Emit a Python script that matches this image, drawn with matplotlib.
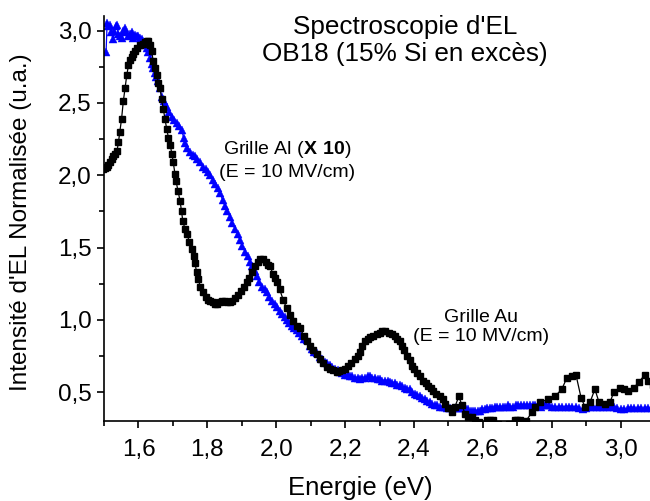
import matplotlib
matplotlib.use("Agg")
import matplotlib.pyplot as plt
from matplotlib.ticker import FixedLocator, FuncFormatter

plt.rcParams['font.family'] = ['Liberation Sans', 'DejaVu Sans']
plt.rcParams['mathtext.fontset'] = 'custom'
plt.rcParams['mathtext.rm'] = 'Liberation Sans'
plt.rcParams['mathtext.bf'] = 'Liberation Sans:bold'

# Grille Au (black squares)
au_x = [1.497, 1.503, 1.508, 1.513, 1.517, 1.522, 1.526, 1.532, 1.538, 1.542,
        1.546, 1.551, 1.556, 1.561, 1.566, 1.571, 1.576, 1.580, 1.585, 1.590,
        1.597, 1.605, 1.612, 1.619, 1.625, 1.629, 1.634, 1.638, 1.643, 1.648,
        1.653, 1.658, 1.663, 1.667, 1.672, 1.677, 1.682, 1.687, 1.692, 1.697,
        1.701, 1.706, 1.709, 1.715, 1.721, 1.725, 1.729, 1.735, 1.741, 1.748,
        1.755, 1.760, 1.764, 1.769, 1.773, 1.780, 1.787, 1.795, 1.801, 1.808,
        1.815, 1.822, 1.829, 1.836, 1.843, 1.850, 1.858, 1.866, 1.873, 1.881,
        1.889, 1.897, 1.906, 1.915, 1.922, 1.930, 1.938, 1.946, 1.954, 1.962,
        1.970, 1.977, 1.982, 1.990, 1.996, 2.002, 2.010, 2.020, 2.030, 2.040,
        2.050, 2.060, 2.069, 2.080, 2.090, 2.098, 2.108, 2.118, 2.127, 2.137,
        2.147, 2.156, 2.165, 2.175, 2.183, 2.191, 2.200, 2.208, 2.217, 2.229,
        2.236, 2.243, 2.250, 2.258, 2.265, 2.272, 2.282, 2.292, 2.300, 2.308,
        2.316, 2.326, 2.336, 2.344, 2.351, 2.358, 2.365, 2.372, 2.380, 2.387,
        2.394, 2.401, 2.409, 2.417, 2.426, 2.434, 2.441, 2.448, 2.455, 2.465,
        2.476, 2.483, 2.490, 2.500, 2.510, 2.519, 2.530, 2.539, 2.548, 2.558,
        2.568, 2.577, 2.590, 2.600, 2.612, 2.620, 2.629, 2.645, 2.660, 2.675,
        2.693, 2.700, 2.707, 2.725, 2.742, 2.751, 2.766, 2.789, 2.809, 2.829,
        2.844, 2.858, 2.870, 2.885, 2.896, 2.911, 2.925, 2.937, 2.954, 2.969,
        2.980, 2.998, 3.010, 3.021, 3.038, 3.053, 3.070, 3.079, 3.095]
au_y = [2.04, 2.05, 2.06, 2.07, 2.09, 2.11, 2.13, 2.15, 2.17, 2.23,
        2.30, 2.39, 2.51, 2.60, 2.69, 2.76, 2.80, 2.82, 2.84, 2.86,
        2.88, 2.90, 2.91, 2.92, 2.93, 2.93, 2.90, 2.86, 2.79, 2.74,
        2.69, 2.64, 2.60, 2.53, 2.46, 2.39, 2.32, 2.26, 2.21, 2.15,
        2.09, 2.01, 1.96, 1.89, 1.82, 1.75, 1.68, 1.63, 1.59, 1.54,
        1.49, 1.44, 1.39, 1.33, 1.28, 1.23, 1.19, 1.16, 1.14, 1.13,
        1.12, 1.11, 1.11, 1.12, 1.13, 1.13, 1.12, 1.12, 1.13, 1.15,
        1.17, 1.20, 1.23, 1.26, 1.29, 1.33, 1.37, 1.40, 1.42, 1.42,
        1.40, 1.38, 1.37, 1.32, 1.29, 1.26, 1.21, 1.14, 1.08, 1.03,
        0.99, 0.96, 0.94, 0.89, 0.85, 0.82, 0.79, 0.76, 0.73, 0.70,
        0.67, 0.66, 0.65, 0.64, 0.645, 0.65, 0.66, 0.68, 0.70, 0.73,
        0.75, 0.78, 0.82, 0.85, 0.87, 0.88, 0.89, 0.90, 0.91, 0.92,
        0.92, 0.91, 0.90, 0.89, 0.87, 0.85, 0.82, 0.79, 0.75, 0.72,
        0.68, 0.66, 0.63, 0.61, 0.58, 0.56, 0.54, 0.53, 0.51, 0.49,
        0.47, 0.45, 0.42, 0.39, 0.36, 0.40, 0.47, 0.41, 0.35, 0.33,
        0.33, 0.31, 0.29, 0.28, 0.31, 0.31, 0.31, 0.28, 0.27, 0.28,
        0.31, 0.31, 0.31, 0.30, 0.36, 0.40, 0.43, 0.45, 0.47, 0.52,
        0.60, 0.61, 0.62, 0.46, 0.40, 0.43, 0.52, 0.43, 0.42, 0.43,
        0.50, 0.53, 0.52, 0.51, 0.53, 0.57, 0.62, 0.58, 0.55]

# Grille Al x10 (blue triangles)
al_x = [1.506, 1.509, 1.513, 1.517, 1.521, 1.526, 1.530, 1.534, 1.538, 1.541,
        1.546, 1.552, 1.556, 1.561, 1.565, 1.570, 1.575, 1.581, 1.584, 1.590,
        1.596, 1.600, 1.605, 1.609, 1.613, 1.619, 1.625, 1.629, 1.634, 1.638,
        1.642, 1.647, 1.652, 1.657, 1.662, 1.668, 1.673, 1.678, 1.683, 1.690,
        1.697, 1.704, 1.712, 1.719, 1.726, 1.731, 1.735, 1.742, 1.750, 1.757,
        1.763, 1.770, 1.778, 1.787, 1.795, 1.802, 1.808, 1.815, 1.822, 1.830,
        1.837, 1.844, 1.851, 1.858, 1.866, 1.873, 1.880, 1.888, 1.895, 1.902,
        1.910, 1.917, 1.924, 1.930, 1.937, 1.944, 1.951, 1.958, 1.966, 1.973,
        1.980, 1.988, 1.995, 2.002, 2.010, 2.017, 2.024, 2.031, 2.038, 2.046,
        2.053, 2.060, 2.067, 2.075, 2.082, 2.089, 2.097, 2.104, 2.111, 2.118,
        2.127, 2.134, 2.141, 2.148, 2.156, 2.163, 2.170, 2.178, 2.185, 2.192,
        2.199, 2.207, 2.214, 2.221, 2.228, 2.236, 2.243, 2.250, 2.258, 2.265,
        2.272, 2.279, 2.287, 2.294, 2.301, 2.308, 2.316, 2.323, 2.330, 2.337,
        2.345, 2.352, 2.359, 2.366, 2.374, 2.381, 2.388, 2.395, 2.403, 2.410,
        2.417, 2.424, 2.432, 2.439, 2.446, 2.453, 2.461, 2.468, 2.475, 2.483,
        2.490, 2.497, 2.504, 2.512, 2.520, 2.528, 2.535, 2.542, 2.550, 2.557,
        2.564, 2.571, 2.578, 2.585, 2.591, 2.598, 2.605, 2.612, 2.620, 2.627,
        2.634, 2.642, 2.649, 2.657, 2.664, 2.672, 2.680, 2.687, 2.695, 2.703,
        2.711, 2.720, 2.728, 2.736, 2.745, 2.752, 2.760, 2.768, 2.776, 2.784,
        2.792, 2.800, 2.810, 2.820, 2.830, 2.840, 2.850, 2.860, 2.870, 2.880,
        2.890, 2.900, 2.910, 2.920, 2.930, 2.940, 2.950, 2.960, 2.970, 2.980,
        2.990, 3.000, 3.010, 3.020, 3.030, 3.040, 3.050, 3.060, 3.070, 3.080,
        3.090]
al_y = [2.85, 3.05, 3.03, 3.04, 2.99, 2.94, 3.00, 3.03, 3.04, 2.98,
        2.96, 2.95, 3.00, 3.02, 2.99, 2.96, 2.98, 2.99, 2.95, 2.97,
        2.96, 2.96, 2.95, 2.94, 2.92, 2.90, 2.88, 2.85, 2.81, 2.77,
        2.74, 2.71, 2.68, 2.65, 2.60, 2.54, 2.51, 2.49, 2.47, 2.44,
        2.40, 2.38, 2.36, 2.34, 2.31, 2.26, 2.22, 2.19, 2.16, 2.14,
        2.13, 2.11, 2.09, 2.06, 2.04, 2.02, 2.00, 1.97, 1.94, 1.91,
        1.88, 1.83, 1.79, 1.75, 1.71, 1.67, 1.63, 1.59, 1.55, 1.51,
        1.47, 1.44, 1.40, 1.37, 1.34, 1.30, 1.26, 1.23, 1.21, 1.19,
        1.16, 1.13, 1.11, 1.09, 1.06, 1.04, 1.02, 1.00, 0.98, 0.96,
        0.94, 0.93, 0.91, 0.89, 0.87, 0.86, 0.82, 0.80, 0.78, 0.77,
        0.74, 0.73, 0.71, 0.70, 0.69, 0.67, 0.66, 0.65, 0.64, 0.63,
        0.62, 0.62, 0.61, 0.61, 0.60, 0.60, 0.59, 0.60, 0.60, 0.61,
        0.61, 0.60, 0.60, 0.59, 0.59, 0.58, 0.58, 0.58, 0.57, 0.56,
        0.56, 0.55, 0.55, 0.54, 0.53, 0.52, 0.52, 0.50, 0.49, 0.48,
        0.47, 0.46, 0.45, 0.44, 0.43, 0.42, 0.41, 0.41, 0.40, 0.40,
        0.40, 0.39, 0.39, 0.39, 0.39, 0.39, 0.39, 0.39, 0.38, 0.38,
        0.37, 0.37, 0.37, 0.37, 0.37, 0.38, 0.38, 0.39, 0.39, 0.39,
        0.40, 0.40, 0.40, 0.40, 0.40, 0.41, 0.40, 0.40, 0.41, 0.41,
        0.41, 0.41, 0.41, 0.41, 0.41, 0.41, 0.41, 0.40, 0.41, 0.41,
        0.41, 0.40, 0.40, 0.40, 0.40, 0.40, 0.40, 0.40, 0.40, 0.39,
        0.38, 0.39, 0.40, 0.40, 0.40, 0.40, 0.40, 0.40, 0.40, 0.40,
        0.39, 0.38, 0.38, 0.39, 0.39, 0.39, 0.39, 0.39, 0.39, 0.39,
        0.39]

x_major = [1.6, 1.8, 2.0, 2.2, 2.4, 2.6, 2.8, 3.0]
x_minor = [1.5, 1.7, 1.9, 2.1, 2.3, 2.5, 2.7, 2.9]
y_major = [0.5, 1.0, 1.5, 2.0, 2.5, 3.0]
y_minor = [0.75, 1.25, 1.75, 2.25, 2.75]

fig = plt.figure(figsize=(6.5, 5.01), dpi=100)
ax = fig.add_axes([0.16, 0.1597, 0.84, 0.808])

ax.plot(au_x, au_y, color='black', lw=0.9, marker='s', ms=3.8,
        mec='black', mfc='black', zorder=3)
ax.plot(al_x, al_y, color='#0000FF', lw=0.9, marker='^', ms=5.4,
        mec='#0000FF', mfc='#0000FF', mew=0.3, zorder=2)

ax.set_xlim(1.5, 3.085)
ax.set_ylim(0.3, 3.1)

for s in ['top', 'right']:
    ax.spines[s].set_visible(False)
for s in ['left', 'bottom']:
    ax.spines[s].set_linewidth(1.2)

ax.xaxis.set_major_locator(FixedLocator(x_major))
ax.xaxis.set_minor_locator(FixedLocator(x_minor))
ax.yaxis.set_major_locator(FixedLocator(y_major))
ax.yaxis.set_minor_locator(FixedLocator(y_minor))
fmt = FuncFormatter(lambda v, p: f"{v:.1f}".replace('.', ','))
ax.xaxis.set_major_formatter(fmt)
ax.yaxis.set_major_formatter(fmt)
ax.tick_params(which='major', direction='out', length=5, width=1.2,
               labelsize=17.5, pad=4)
ax.tick_params(axis='x', which='major', pad=8)
ax.tick_params(which='minor', direction='out', length=3.5, width=1.2)

ax.set_xlabel('Energie (eV)', fontsize=18.5)
ax.xaxis.set_label_coords(0.469, -0.135)
ax.set_ylabel("Intensité d'EL Normalisée (u.a.)", fontsize=17.5)
ax.yaxis.set_label_coords(-0.132, 0.49)

ax.text(2.374, 2.93, "Spectroscopie d'EL\nOB18 (15% Si en excès)",
        ha='center', va='center', fontsize=18.8, linespacing=1.15)
ax.text(2.031, 2.175, r"Grille Al ($\mathbf{X\ 10}$)", ha='center',
        va='center', fontsize=14)
ax.text(2.031, 2.02, "(E = 10 MV/cm)", ha='center', va='center', fontsize=14)
ax.text(2.594, 0.95, "Grille Au\n(E = 10 MV/cm)", ha='center', va='center',
        fontsize=14, linespacing=1.2)

fig.savefig('out.png', dpi=100)
